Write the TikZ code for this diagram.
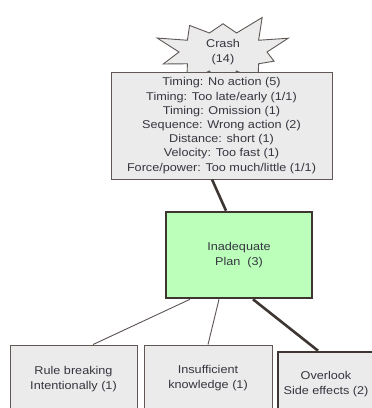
\documentclass[tikz,border=0pt]{standalone}
\usepackage{fontspec}
\setmainfont{Liberation Sans}[FakeStretch=1.12]
\usetikzlibrary{shapes.symbols}

\definecolor{boxgray}{HTML}{EBEBEB}
\definecolor{edgegray}{HTML}{5F5855}
\definecolor{plangreen}{HTML}{BBFFBB}
\definecolor{linebrown}{HTML}{3E3632}
\definecolor{labelgray}{HTML}{35353F}

\tikzset{
    causebox/.style={draw=edgegray, fill=boxgray, line width=0.9pt, align=center,
        inner sep=0pt, text=labelgray, font=\fontsize{11.3}{14.2}\selectfont},
    thinedge/.style={draw=linebrown!85, line width=0.9pt},
    thickedge/.style={draw=linebrown, line width=2.6pt},
}

\begin{document}
\begin{tikzpicture}[x=1pt,y=-1pt]
        \clip (0,0) rectangle (372,408);
        \fill[white] (0,0) rectangle (372,408);

        % star behind the list
        \node[causebox, starburst, starburst points=10, starburst point height=26pt,
            random starburst=3, minimum width=140pt, minimum height=92pt] (crash) at (223,52) {Crash\\(14)};

        \node[causebox, minimum width=221pt, minimum height=107pt] (causes) at (221.5,125.5) {%
            Timing: No action (5)\\
            Timing: Too late/early (1/1)\\
            Timing: Omission (1)\\
            Sequence: Wrong action (2)\\
            Distance: short (1)\\
            Velocity: Too fast (1)\\
            Force/power: Too much/little (1/1)};

        \node[causebox, fill=plangreen, draw=linebrown, line width=2.6pt,
            minimum width=146pt, minimum height=86pt] (plan) at (239,255) {Inadequate\\Plan~~(3)};

        % bottom row, cut off by the frame
        \node[causebox, minimum width=127pt, minimum height=68pt] (rule) at (73.5,379) {Rule breaking\\Intentionally (1)};
        \node[causebox, minimum width=128pt, minimum height=66pt] (knowl) at (208,378) {Insufficient\\knowledge (1)};
        \node[causebox, draw=linebrown, line width=2.6pt,
            minimum width=96pt, minimum height=64pt] (overlook) at (326,384) {Overlook\\Side effects (2)};

        \draw[thickedge] ([xshift=-9.5pt]causes.south) -- ([xshift=-13pt]plan.north);
        \draw[thinedge] ([xshift=-49pt]plan.south) -- ([xshift=19.5pt]rule.north);
        \draw[thinedge] ([xshift=-20pt]plan.south) -- (knowl.north);
        \draw[thickedge] ([xshift=14pt]plan.south) -- ([xshift=-8pt]overlook.north);
    \end{tikzpicture}
\end{document}
